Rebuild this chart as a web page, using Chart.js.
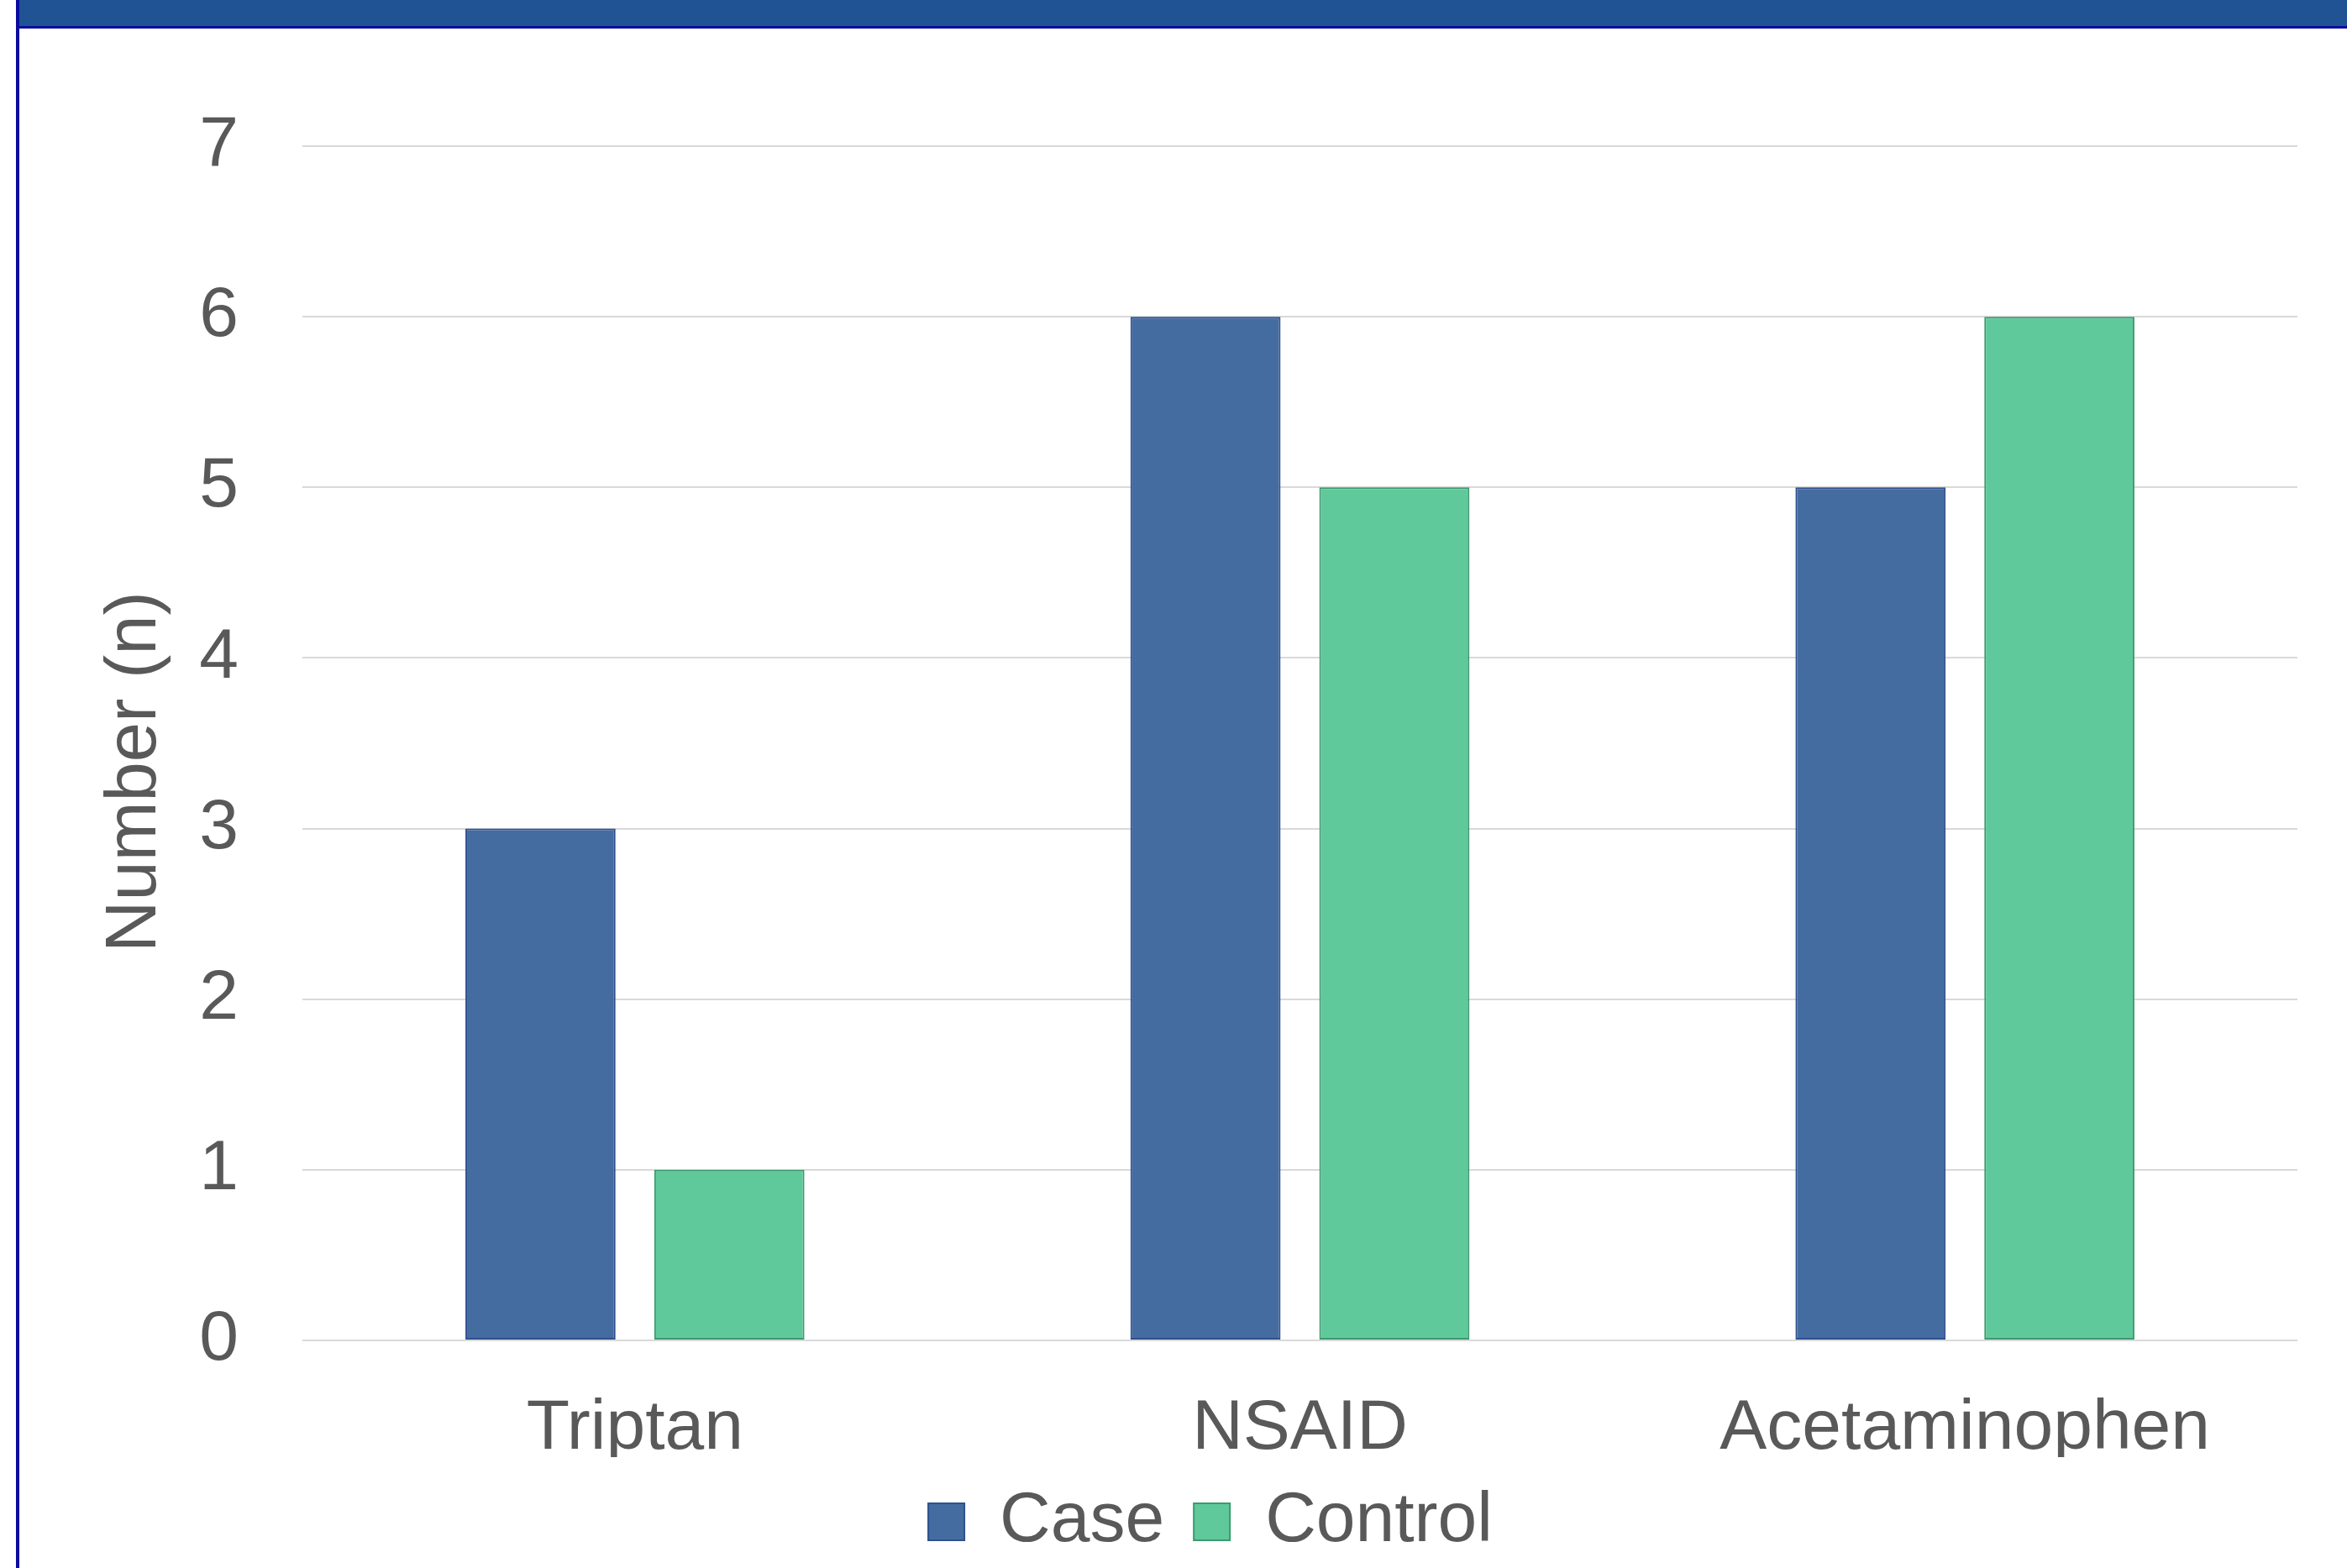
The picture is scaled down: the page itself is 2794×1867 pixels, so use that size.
<!DOCTYPE html>
<html>

<head>
    <script src="https://cdn.jsdelivr.net/npm/chart.js@4.4.1/dist/chart.umd.min.js"></script>
    <title>Number (n) by medication</title>
    <style>
        html, body { margin: 0; padding: 0; background: #ffffff; }
        #wrap { width: 2794px; height: 1867px; position: relative; }
    </style>
    <script>
        const categories = ['Triptan', 'NSAID', 'Acetaminophen'];
        const caseValues = [3, 6, 5];
        const controlValues = [1, 5, 6];
        const seriesNames = ['Case', 'Control'];
        const yTicks = [0, 1, 2, 3, 4, 5, 6, 7];
        const yTitle = 'Number (n)';

        const textColor = '#595959';
        const fontFamily = '"Liberation Sans", Arial, sans-serif';

        // slide frame: blue header strip and thin left border
        const framePlugin = {
            id: 'frame',
            beforeDraw(chart) {
                const ctx = chart.ctx;
                ctx.save();
                ctx.fillStyle = '#ffffff';
                ctx.fillRect(0, 0, chart.width, chart.height);
                ctx.fillStyle = '#1f5394';
                ctx.fillRect(19, 0, chart.width - 19, 32);
                ctx.fillStyle = '#0b0b9e';
                ctx.fillRect(19, 31, chart.width - 19, 3);
                ctx.fillRect(19, 0, 4, chart.height);
                ctx.restore();
            }
        };

        // y title placed like the original (a bit below the plot centre)
        const yTitlePlugin = {
            id: 'yTitle',
            afterDraw(chart) {
                const area = chart.chartArea;
                const ctx = chart.ctx;
                ctx.save();
                ctx.translate(area.left - 198, (area.top + area.bottom) / 2 + 34);
                ctx.rotate(-Math.PI / 2);
                ctx.font = '85px ' + fontFamily;
                ctx.fillStyle = textColor;
                ctx.textAlign = 'center';
                ctx.textBaseline = 'middle';
                ctx.fillText(yTitle, 0, 0);
                ctx.restore();
            }
        };

        const prepChart = () => {
            Chart.defaults.font.family = fontFamily;
            Chart.defaults.color = textColor;
            new Chart(
                document.getElementById('chart').getContext('2d'),
                {
                    type: 'bar',
                    data: {
                        labels: categories,
                        datasets: [
                            {
                                label: seriesNames[0],
                                data: caseValues,
                                backgroundColor: '#446ca0',
                                borderColor: '#2f4f8f',
                                borderWidth: 2,
                                borderSkipped: false
                            },
                            {
                                label: seriesNames[1],
                                data: controlValues,
                                backgroundColor: '#60c99c',
                                borderColor: '#3a9a6c',
                                borderWidth: 2,
                                borderSkipped: false
                            }
                        ]
                    },
                    options: {
                        responsive: false,
                        animation: false,
                        categoryPercentage: 0.568,
                        barPercentage: 0.795,
                        layout: {
                            padding: { left: 147, right: 59, top: 174, bottom: 3 }
                        },
                        plugins: {
                            legend: {
                                position: 'bottom',
                                labels: {
                                    boxWidth: 43,
                                    boxHeight: 44,
                                    padding: 35,
                                    font: { size: 84 },
                                    color: textColor
                                }
                            },
                            tooltip: { enabled: false }
                        },
                        scales: {
                            x: {
                                grid: { display: false },
                                border: { display: false },
                                ticks: {
                                    padding: 47,
                                    font: { size: 84 },
                                    color: textColor
                                },
                                afterFit: (scale) => { scale.height = 139; }
                            },
                            y: {
                                min: yTicks[0],
                                max: yTicks[yTicks.length - 1],
                                grid: {
                                    color: '#d9d9d9',
                                    lineWidth: 2,
                                    drawTicks: false
                                },
                                border: { display: false },
                                ticks: {
                                    stepSize: 1,
                                    padding: 76,
                                    font: { size: 84 },
                                    color: textColor
                                },
                                afterFit: (scale) => { scale.width = 213; }
                            }
                        }
                    },
                    plugins: [framePlugin, yTitlePlugin]
                }
            );
        };
        window.onload = prepChart;
    </script>
</head>

<body>
    <div id="wrap"><canvas id="chart" width="2794" height="1867"></canvas></div>
</body>

</html>
